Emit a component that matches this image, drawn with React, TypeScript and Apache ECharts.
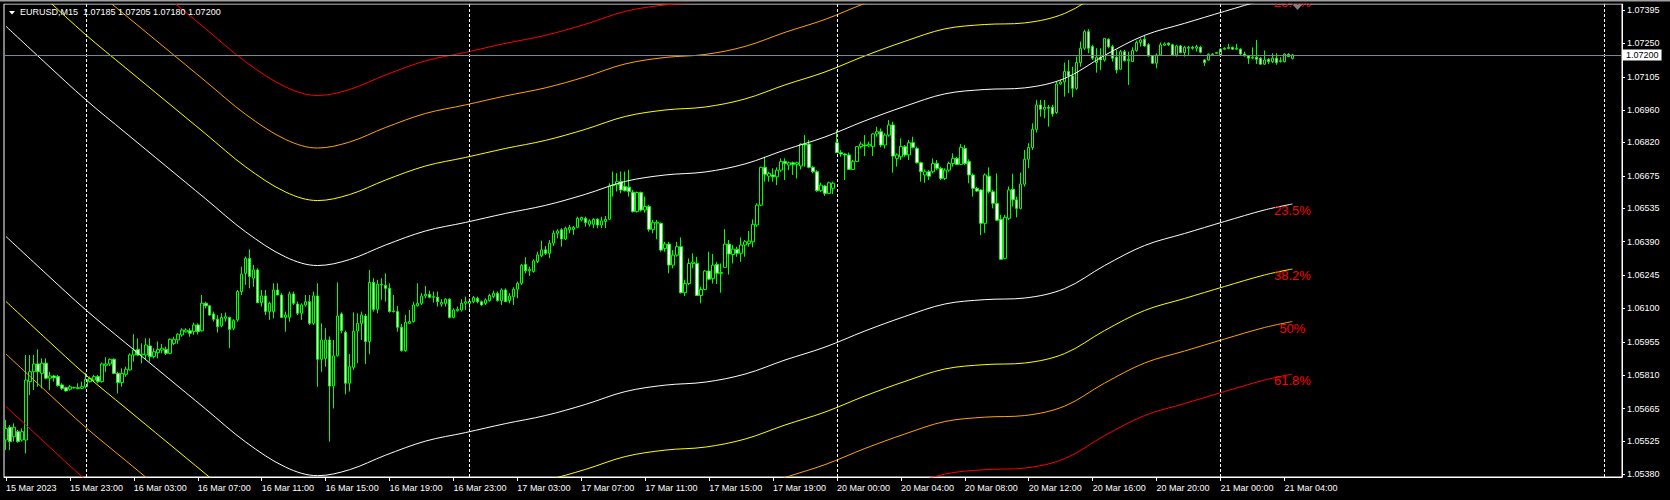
import React, { useEffect, useRef } from 'react';
import * as echarts from 'echarts';

const FONT = '"Liberation Sans", Arial, sans-serif';
const SYMBOL = 'EURUSD,M15';

// ---- price axis ----
const Y_MIN = 1.053683;
const Y_MAX = 1.07421;
const Y_TICKS = [1.0538, 1.05525, 1.05665, 1.0581, 1.05955, 1.061, 1.06245, 1.0639, 1.06535, 1.06675, 1.0682, 1.0696, 1.07105, 1.0725, 1.07395];
const BID = 1.072;

// ---- time axis ----
const AXIS_SLOTS = 405; // bars + empty shift area
const FIRST_BAR_MINUTE = 19 * 60; // 15 Mar 19:00
const MONDAY_BAR = 208; // first bar of 20 Mar 00:00
const DAY_BREAKS = [20, 116, 208, 304, 400];
const LABEL_STEP = 16;

// ---- candles [open, close, low, high] ----
const OHLC_15_MAR = [
  [1.05529, 1.05579, 1.05485, 1.05616], [1.05584, 1.05522, 1.05485, 1.05594], [1.05543, 1.05584, 1.05522, 1.05601], [1.05565, 1.05522, 1.05517, 1.05572],
  [1.05529, 1.05565, 1.05522, 1.05579], [1.05529, 1.05789, 1.05471, 1.05898], [1.05782, 1.05825, 1.05724, 1.05898], [1.05825, 1.05859, 1.05746, 1.05898],
  [1.05859, 1.05825, 1.0576, 1.05922], [1.05818, 1.05862, 1.05753, 1.05883], [1.05862, 1.05797, 1.05792, 1.05883], [1.05797, 1.05807, 1.05746, 1.05825],
  [1.05807, 1.05799, 1.05782, 1.05811], [1.05804, 1.05765, 1.0576, 1.05811], [1.05768, 1.05753, 1.05746, 1.05775], [1.05756, 1.05742, 1.05739, 1.0576],
  [1.05749, 1.0576, 1.05743, 1.05768], [1.05755, 1.05757, 1.05752, 1.0576], [1.05752, 1.05756, 1.05749, 1.05775], [1.05753, 1.0576, 1.05749, 1.05782],
];
const OHLC_16_MAR = [
  [1.0576, 1.05792, 1.05753, 1.05821], [1.05782, 1.05797, 1.05778, 1.05804], [1.05789, 1.05804, 1.05782, 1.05811], [1.05804, 1.05782, 1.05775, 1.05811],
  [1.05782, 1.05859, 1.05778, 1.05865], [1.05853, 1.05859, 1.05825, 1.05888], [1.05859, 1.05879, 1.0585, 1.05883], [1.05879, 1.05818, 1.05815, 1.05883],
  [1.05818, 1.05778, 1.05731, 1.05825], [1.05778, 1.05818, 1.0576, 1.0584], [1.05814, 1.05836, 1.05804, 1.05847], [1.05833, 1.05898, 1.0583, 1.05905],
  [1.05898, 1.05919, 1.05869, 1.05988], [1.05922, 1.05898, 1.05893, 1.0597], [1.05898, 1.05902, 1.05862, 1.05948], [1.05898, 1.05941, 1.05876, 1.0597],
  [1.05937, 1.05891, 1.05869, 1.0597], [1.05891, 1.05912, 1.05883, 1.05927], [1.05908, 1.05922, 1.05883, 1.05956], [1.05919, 1.05927, 1.05905, 1.05946],
  [1.05922, 1.05905, 1.05898, 1.05934], [1.05905, 1.05966, 1.05901, 1.0597], [1.05948, 1.05966, 1.05941, 1.05977], [1.05963, 1.05988, 1.05946, 1.05992],
  [1.05985, 1.06006, 1.05977, 1.06014], [1.05998, 1.06006, 1.05995, 1.06014], [1.06003, 1.05992, 1.05977, 1.06014], [1.05999, 1.06028, 1.05985, 1.06038],
  [1.06028, 1.05999, 1.05987, 1.06035], [1.06003, 1.06122, 1.05999, 1.06158], [1.06122, 1.06111, 1.061, 1.06129], [1.06111, 1.06071, 1.06067, 1.06115],
  [1.06076, 1.06053, 1.06043, 1.06086], [1.06053, 1.06021, 1.05995, 1.06071], [1.06024, 1.06061, 1.06018, 1.06079], [1.06057, 1.06064, 1.06043, 1.06082],
  [1.06061, 1.06009, 1.05927, 1.06064], [1.06014, 1.06047, 1.06006, 1.06053], [1.0605, 1.06173, 1.06042, 1.0618], [1.06173, 1.06249, 1.06158, 1.06281],
  [1.06252, 1.06317, 1.06202, 1.06325], [1.06317, 1.06238, 1.06187, 1.06356], [1.06231, 1.06267, 1.06194, 1.06289], [1.06267, 1.06125, 1.06122, 1.06274],
  [1.06125, 1.06154, 1.06108, 1.0618], [1.06154, 1.06086, 1.06071, 1.0618], [1.06086, 1.06122, 1.0605, 1.06129], [1.06086, 1.0618, 1.06057, 1.06209],
  [1.0618, 1.06158, 1.06158, 1.06209], [1.06158, 1.06061, 1.06061, 1.06166], [1.06061, 1.06071, 1.05999, 1.06086], [1.06061, 1.06163, 1.06042, 1.06173],
  [1.06163, 1.06122, 1.06115, 1.06173], [1.06119, 1.06079, 1.06071, 1.06129], [1.06079, 1.06115, 1.0605, 1.06122], [1.06115, 1.06129, 1.06108, 1.06158],
  [1.06129, 1.06035, 1.06028, 1.06158], [1.06035, 1.06154, 1.06028, 1.06173], [1.06154, 1.05879, 1.0576, 1.06209], [1.05879, 1.05963, 1.05825, 1.06035],
  [1.05883, 1.05963, 1.05847, 1.06014], [1.05963, 1.05763, 1.05522, 1.05978], [1.05763, 1.05894, 1.05666, 1.05963], [1.05894, 1.06067, 1.05891, 1.06213],
  [1.06076, 1.06004, 1.05992, 1.06083], [1.05996, 1.05775, 1.05727, 1.06004], [1.05775, 1.05847, 1.05739, 1.05902], [1.05844, 1.06001, 1.05833, 1.06083],
  [1.06002, 1.06035, 1.05862, 1.06079], [1.06035, 1.06072, 1.05963, 1.06086], [1.06067, 1.05956, 1.05859, 1.06076], [1.05956, 1.06213, 1.05901, 1.06267],
  [1.06213, 1.06096, 1.06086, 1.06231], [1.06096, 1.06205, 1.06079, 1.06224], [1.06202, 1.06205, 1.06137, 1.06231], [1.062, 1.06187, 1.06129, 1.06252],
  [1.06187, 1.06086, 1.06082, 1.06209], [1.06086, 1.06089, 1.06082, 1.06158], [1.06086, 1.06018, 1.05999, 1.06111], [1.06018, 1.05917, 1.05912, 1.06033],
  [1.05917, 1.0604, 1.05912, 1.06072], [1.06035, 1.06043, 1.06033, 1.06093], [1.06043, 1.06115, 1.06038, 1.06129], [1.06111, 1.06122, 1.06108, 1.06209],
  [1.06122, 1.06154, 1.06115, 1.06166], [1.06154, 1.06161, 1.06144, 1.06197], [1.06161, 1.06148, 1.06144, 1.06177], [1.06148, 1.06151, 1.06125, 1.06173],
  [1.06148, 1.06129, 1.06108, 1.06173], [1.06118, 1.06126, 1.06108, 1.0614], [1.06122, 1.0614, 1.06108, 1.06144], [1.0614, 1.06061, 1.06057, 1.06144],
  [1.06061, 1.06093, 1.06057, 1.06101], [1.0609, 1.06096, 1.06086, 1.06108], [1.06093, 1.06122, 1.06086, 1.0614], [1.06122, 1.06129, 1.06093, 1.06151],
];
const OHLC_17_MAR = [
  [1.06122, 1.06131, 1.06086, 1.06144], [1.06129, 1.06147, 1.06122, 1.06154], [1.06144, 1.06129, 1.06122, 1.06151], [1.06129, 1.06115, 1.06111, 1.06134],
  [1.06122, 1.06137, 1.06115, 1.06144], [1.06134, 1.06156, 1.06129, 1.06163], [1.06151, 1.06166, 1.06144, 1.06177], [1.06166, 1.06134, 1.06129, 1.06173],
  [1.06134, 1.0618, 1.06115, 1.06187], [1.0618, 1.06129, 1.06129, 1.06187], [1.06134, 1.06154, 1.06122, 1.06166], [1.06151, 1.06183, 1.06115, 1.06192],
  [1.06183, 1.06209, 1.06144, 1.06216], [1.06209, 1.06287, 1.06202, 1.06293], [1.06291, 1.06263, 1.06252, 1.06322], [1.06263, 1.0627, 1.06241, 1.06281],
  [1.0626, 1.06306, 1.06255, 1.06313], [1.06303, 1.06332, 1.06296, 1.06346], [1.06328, 1.06354, 1.06322, 1.06394], [1.06354, 1.06339, 1.06332, 1.06371],
  [1.06339, 1.06383, 1.06318, 1.06397], [1.06383, 1.06426, 1.06371, 1.06438], [1.06426, 1.06436, 1.06404, 1.06443], [1.06441, 1.06401, 1.06368, 1.06448],
  [1.06401, 1.06448, 1.06397, 1.06455], [1.06441, 1.06451, 1.06426, 1.06462], [1.06443, 1.06452, 1.06419, 1.06458], [1.06452, 1.06491, 1.06448, 1.06498],
  [1.06484, 1.06494, 1.06477, 1.06498], [1.06491, 1.06472, 1.06455, 1.06498], [1.06465, 1.0648, 1.06455, 1.06487], [1.06465, 1.06487, 1.06448, 1.06491],
  [1.06487, 1.06462, 1.06448, 1.06491], [1.06462, 1.0648, 1.06448, 1.06498], [1.06477, 1.06487, 1.06448, 1.06501], [1.06487, 1.06632, 1.06484, 1.06643],
  [1.06632, 1.06636, 1.06585, 1.06694], [1.06636, 1.0665, 1.06607, 1.06687], [1.0665, 1.06614, 1.066, 1.06694], [1.06629, 1.06611, 1.06607, 1.06694],
  [1.06626, 1.06607, 1.06585, 1.06701], [1.06604, 1.0652, 1.06516, 1.06614], [1.0652, 1.06603, 1.06516, 1.06607], [1.06603, 1.06527, 1.0652, 1.06607],
  [1.06527, 1.06542, 1.06516, 1.06585], [1.06542, 1.06443, 1.06433, 1.06549], [1.06443, 1.06472, 1.06426, 1.06484], [1.0647, 1.06474, 1.064, 1.06484],
  [1.06469, 1.06353, 1.06346, 1.06472], [1.0636, 1.06379, 1.06346, 1.06389], [1.06379, 1.06288, 1.06252, 1.06389], [1.06288, 1.06331, 1.06274, 1.06353],
  [1.06331, 1.06368, 1.06324, 1.06389], [1.06368, 1.06168, 1.06165, 1.06408], [1.06168, 1.06208, 1.06153, 1.06223], [1.06208, 1.06295, 1.06201, 1.06317],
  [1.06295, 1.06301, 1.06274, 1.06339], [1.06295, 1.06156, 1.06155, 1.06324], [1.06156, 1.06182, 1.06122, 1.06194], [1.06182, 1.06262, 1.06179, 1.06266],
  [1.06262, 1.06227, 1.06223, 1.06346], [1.0623, 1.06288, 1.06208, 1.06336], [1.06291, 1.06252, 1.06206, 1.06302], [1.06252, 1.06256, 1.06168, 1.06295],
  [1.06278, 1.06379, 1.06278, 1.06444], [1.06379, 1.06336, 1.06247, 1.06397], [1.06334, 1.06357, 1.06295, 1.06375], [1.06356, 1.06339, 1.06324, 1.06368],
  [1.06339, 1.06375, 1.06302, 1.06408], [1.06375, 1.06389, 1.06324, 1.06397], [1.06382, 1.06392, 1.06368, 1.06436], [1.06389, 1.06465, 1.06365, 1.06486],
  [1.06462, 1.06548, 1.06454, 1.06556], [1.06548, 1.06712, 1.06544, 1.06715], [1.06712, 1.06682, 1.0665, 1.06758], [1.06674, 1.06686, 1.0665, 1.06693],
  [1.06679, 1.06671, 1.0665, 1.06708], [1.06671, 1.067, 1.06635, 1.06712], [1.067, 1.06737, 1.06693, 1.06751], [1.06737, 1.06729, 1.06657, 1.06751],
  [1.06722, 1.06732, 1.067, 1.06737], [1.06732, 1.06725, 1.06679, 1.06737], [1.06725, 1.06732, 1.06664, 1.06737], [1.06718, 1.06813, 1.06703, 1.06816],
  [1.06813, 1.06809, 1.06715, 1.06852], [1.06813, 1.06712, 1.06708, 1.06831], [1.06712, 1.06693, 1.06686, 1.06718], [1.06693, 1.06611, 1.06606, 1.067],
  [1.06611, 1.06635, 1.06606, 1.06645], [1.06631, 1.06599, 1.06588, 1.06635], [1.06599, 1.06645, 1.06599, 1.0665], [1.06621, 1.06643, 1.06596, 1.0665],
];
const OHLC_20_MAR = [
  [1.06819, 1.06776, 1.06776, 1.06874], [1.06776, 1.0677, 1.06758, 1.06787], [1.0677, 1.06766, 1.06657, 1.06773], [1.06766, 1.06703, 1.06703, 1.06776],
  [1.06703, 1.06737, 1.067, 1.06744], [1.06737, 1.06802, 1.06737, 1.06805], [1.06802, 1.06813, 1.06794, 1.06823], [1.06809, 1.06806, 1.06761, 1.06852],
  [1.06805, 1.06812, 1.06799, 1.06823], [1.06802, 1.06857, 1.06761, 1.0686], [1.06857, 1.06867, 1.06845, 1.06888], [1.06867, 1.06809, 1.06799, 1.06881],
  [1.06809, 1.06852, 1.06794, 1.0686], [1.06852, 1.06896, 1.06845, 1.06917], [1.06896, 1.06761, 1.06689, 1.0691], [1.06751, 1.06766, 1.06715, 1.06773],
  [1.06758, 1.06802, 1.06744, 1.06838], [1.06802, 1.06766, 1.06758, 1.06809], [1.06766, 1.06819, 1.06744, 1.06831], [1.06819, 1.06799, 1.06794, 1.06845],
  [1.06794, 1.06732, 1.06729, 1.06802], [1.06732, 1.06693, 1.0665, 1.06737], [1.06679, 1.06693, 1.06645, 1.06703], [1.06693, 1.06674, 1.06657, 1.067],
  [1.06693, 1.06729, 1.06686, 1.06751], [1.06729, 1.06708, 1.067, 1.06744], [1.06708, 1.06664, 1.06657, 1.06715], [1.06664, 1.067, 1.06657, 1.06708],
  [1.067, 1.06729, 1.06693, 1.06737], [1.06729, 1.06751, 1.06715, 1.06773], [1.06751, 1.06725, 1.06722, 1.06758], [1.06725, 1.06799, 1.06722, 1.06813],
  [1.06794, 1.06729, 1.06722, 1.06809], [1.06737, 1.06679, 1.06643, 1.06747], [1.06679, 1.06621, 1.06585, 1.06686], [1.06621, 1.06609, 1.06606, 1.06628],
  [1.06614, 1.06469, 1.06418, 1.06616], [1.06469, 1.06679, 1.06428, 1.06686], [1.06674, 1.06606, 1.06599, 1.06712], [1.06606, 1.06556, 1.06534, 1.06614],
  [1.06556, 1.06483, 1.0648, 1.06686], [1.06487, 1.06313, 1.06313, 1.06506], [1.06317, 1.06495, 1.06313, 1.06506], [1.06491, 1.06614, 1.06484, 1.06629],
  [1.06617, 1.06571, 1.06542, 1.06684], [1.06571, 1.06534, 1.06495, 1.06585], [1.06534, 1.0664, 1.0653, 1.06689], [1.06639, 1.06747, 1.06629, 1.06788],
  [1.06747, 1.06798, 1.06708, 1.06817], [1.06798, 1.06877, 1.06788, 1.06903], [1.06877, 1.06983, 1.06863, 1.07005], [1.06983, 1.06964, 1.06932, 1.07005],
  [1.06964, 1.06973, 1.06925, 1.07005], [1.06973, 1.06969, 1.06889, 1.06983], [1.06973, 1.06944, 1.06932, 1.06983], [1.0695, 1.07074, 1.06944, 1.07084],
  [1.07074, 1.07083, 1.0707, 1.07092], [1.07083, 1.07128, 1.07019, 1.07167], [1.07128, 1.07109, 1.07034, 1.07178], [1.07109, 1.07055, 1.07016, 1.07149],
  [1.07055, 1.07167, 1.07048, 1.07193], [1.07167, 1.07229, 1.07149, 1.07258], [1.07229, 1.07301, 1.07222, 1.07309], [1.07301, 1.07229, 1.07207, 1.07312],
  [1.07236, 1.07186, 1.07178, 1.07244], [1.07167, 1.0719, 1.07123, 1.07229], [1.0719, 1.07178, 1.07135, 1.07229], [1.07178, 1.07272, 1.07171, 1.07272],
  [1.07268, 1.07236, 1.07229, 1.07272], [1.07236, 1.07186, 1.07171, 1.07244], [1.0719, 1.07135, 1.0712, 1.07222], [1.07138, 1.07214, 1.07135, 1.07222],
  [1.07214, 1.07175, 1.07171, 1.07222], [1.07175, 1.07181, 1.0707, 1.07214], [1.07171, 1.07219, 1.07171, 1.07233], [1.07219, 1.07254, 1.07214, 1.07262],
  [1.07254, 1.07265, 1.07236, 1.07272], [1.07268, 1.07239, 1.07236, 1.07287], [1.07244, 1.07196, 1.07193, 1.07251], [1.07196, 1.07164, 1.07161, 1.072],
  [1.07164, 1.072, 1.07142, 1.07207], [1.072, 1.07244, 1.07196, 1.07254], [1.07242, 1.07248, 1.07239, 1.07254], [1.07251, 1.07244, 1.07239, 1.07254],
  [1.07244, 1.072, 1.07196, 1.07248], [1.072, 1.07239, 1.07193, 1.07244], [1.07239, 1.0721, 1.07207, 1.07244], [1.0721, 1.07233, 1.07193, 1.07239],
  [1.07229, 1.07233, 1.072, 1.07239], [1.07233, 1.07229, 1.07222, 1.07239], [1.07229, 1.07236, 1.07215, 1.07244], [1.07233, 1.07212, 1.07207, 1.07239],
  [1.07178, 1.07167, 1.07152, 1.07181], [1.07178, 1.07203, 1.07175, 1.07207], [1.07201, 1.07204, 1.07196, 1.07207], [1.07207, 1.0721, 1.07206, 1.07212],
];
const OHLC_21_MAR = [
  [1.072, 1.07225, 1.07196, 1.07229], [1.07225, 1.07229, 1.07222, 1.07233], [1.07228, 1.07233, 1.07225, 1.07248], [1.07233, 1.07225, 1.07222, 1.07236],
  [1.07225, 1.07229, 1.07222, 1.07248], [1.07225, 1.07204, 1.072, 1.07229], [1.07204, 1.07196, 1.07193, 1.07214], [1.07196, 1.07186, 1.07161, 1.072],
  [1.07186, 1.0719, 1.07181, 1.07233], [1.0719, 1.07181, 1.07161, 1.07265], [1.07186, 1.0716, 1.07157, 1.0719], [1.0716, 1.07178, 1.07157, 1.07219],
  [1.07181, 1.07171, 1.07161, 1.07186], [1.07171, 1.07186, 1.07164, 1.07207], [1.07186, 1.07167, 1.07157, 1.07207], [1.07171, 1.07175, 1.07167, 1.0719],
  [1.07171, 1.07204, 1.07167, 1.07207], [1.07203, 1.07193, 1.0719, 1.07207], [1.07185, 1.072, 1.0718, 1.07205],
];

// ---- Fibonacci channel lines, sampled at these bars ----
const CURVE_BARS = [0, 10, 20, 30, 40, 50, 60, 70, 78, 86, 95, 105, 115, 125, 135, 145, 155, 165, 175, 185, 195, 205, 215, 225, 235, 245, 255, 265, 275, 285, 295, 305, 315, 322];
const UPPER_236 = [1.07324, 1.07163, 1.07005, 1.06861, 1.06718, 1.06575, 1.06432, 1.06323, 1.06286, 1.06312, 1.06375, 1.06436, 1.06473, 1.06512, 1.06547, 1.06595, 1.06651, 1.06679, 1.06692, 1.06727, 1.06788, 1.06844, 1.06914, 1.06977, 1.07031, 1.0705, 1.07057, 1.07098, 1.07198, 1.07285, 1.07337, 1.07389, 1.07439, 1.07465];
const UPPER_382 = [1.07606, 1.07445, 1.07287, 1.07143, 1.07, 1.06857, 1.06714, 1.06605, 1.06568, 1.06594, 1.06657, 1.06718, 1.06755, 1.06794, 1.06829, 1.06877, 1.06933, 1.06961, 1.06974, 1.07009, 1.0707, 1.07126, 1.07196, 1.07259, 1.07313, 1.07332, 1.07339, 1.0738, 1.0748, 1.07567, 1.07619, 1.07671, 1.07721, 1.07747];
const UPPER_500 = [1.07834, 1.07673, 1.07515, 1.07371, 1.07228, 1.07085, 1.06942, 1.06833, 1.06796, 1.06822, 1.06885, 1.06946, 1.06983, 1.07022, 1.07057, 1.07105, 1.07161, 1.07189, 1.07202, 1.07237, 1.07298, 1.07354, 1.07424, 1.07487, 1.07541, 1.0756, 1.07567, 1.07608, 1.07708, 1.07795, 1.07847, 1.07899, 1.07949, 1.07975];
const UPPER_618 = [1.08062, 1.07901, 1.07743, 1.07599, 1.07456, 1.07313, 1.0717, 1.07061, 1.07024, 1.0705, 1.07113, 1.07174, 1.07211, 1.0725, 1.07285, 1.07333, 1.07389, 1.07417, 1.0743, 1.07465, 1.07526, 1.07582, 1.07652, 1.07715, 1.07769, 1.07788, 1.07795, 1.07836, 1.07936, 1.08023, 1.08075, 1.08127, 1.08177, 1.08203];
const LOWER_236 = [1.06412, 1.06251, 1.06093, 1.05949, 1.05806, 1.05663, 1.0552, 1.05411, 1.05374, 1.054, 1.05463, 1.05524, 1.05561, 1.056, 1.05635, 1.05683, 1.05739, 1.05767, 1.0578, 1.05815, 1.05876, 1.05932, 1.06002, 1.06065, 1.06119, 1.06138, 1.06145, 1.06186, 1.06286, 1.06373, 1.06425, 1.06477, 1.06527, 1.06553];
const LOWER_382 = [1.0613, 1.05969, 1.05811, 1.05667, 1.05524, 1.05381, 1.05238, 1.05129, 1.05092, 1.05118, 1.05181, 1.05242, 1.05279, 1.05318, 1.05353, 1.05401, 1.05457, 1.05485, 1.05498, 1.05533, 1.05594, 1.0565, 1.0572, 1.05783, 1.05837, 1.05856, 1.05863, 1.05904, 1.06004, 1.06091, 1.06143, 1.06195, 1.06245, 1.06271];
const LOWER_500 = [1.05902, 1.05741, 1.05583, 1.05439, 1.05296, 1.05153, 1.0501, 1.04901, 1.04864, 1.0489, 1.04953, 1.05014, 1.05051, 1.0509, 1.05125, 1.05173, 1.05229, 1.05257, 1.0527, 1.05305, 1.05366, 1.05422, 1.05492, 1.05555, 1.05609, 1.05628, 1.05635, 1.05676, 1.05776, 1.05863, 1.05915, 1.05967, 1.06017, 1.06043];
const LOWER_618 = [1.05674, 1.05513, 1.05355, 1.05211, 1.05068, 1.04925, 1.04782, 1.04673, 1.04636, 1.04662, 1.04725, 1.04786, 1.04823, 1.04862, 1.04897, 1.04945, 1.05001, 1.05029, 1.05042, 1.05077, 1.05138, 1.05194, 1.05264, 1.05327, 1.05381, 1.054, 1.05407, 1.05448, 1.05548, 1.05635, 1.05687, 1.05739, 1.05789, 1.05815];
const FIB_LABELS = ['23.5%', '38.2%', '50%', '61.8%'];
const UPPER_LABEL = '23.6%';
const FIB_COLORS = ['#ffffff', '#ffff00', '#ffa500', '#ff0000'];

const pad = (n: number) => (n < 10 ? '0' + n : '' + n);
function buildCategories(): string[] {
  const cats: string[] = [];
  for (let i = 0; i < AXIS_SLOTS; i++) {
    let day: number;
    let m: number;
    if (i < MONDAY_BAR) {
      const t = FIRST_BAR_MINUTE + 15 * i;
      day = 15 + Math.floor(t / 1440);
      m = t % 1440;
    } else {
      const t = 15 * (i - MONDAY_BAR);
      day = 20 + Math.floor(t / 1440);
      m = t % 1440;
    }
    cats.push(i === 0 ? '15 Mar 2023' : `${day} Mar ${pad(Math.floor(m / 60))}:${pad(m % 60)}`);
  }
  return cats;
}

export default function App() {
  const ref = useRef<HTMLDivElement>(null);
  useEffect(() => {
    if (!ref.current) return;
    const chart = echarts.init(ref.current, undefined, { renderer: 'svg' });
    const candles = [...OHLC_15_MAR, ...OHLC_16_MAR, ...OHLC_17_MAR, ...OHLC_20_MAR, ...OHLC_21_MAR];
    const lastIdx = candles.length - 1;
    const last = candles[lastIdx];
    const cats = buildCategories();
    const showAt = (idx: number) => idx % LABEL_STEP === 0 && idx <= lastIdx;
    const endCat = cats[CURVE_BARS[CURVE_BARS.length - 1]];
    const fibLabel = (text: string, value: number, offsetY: number) => ({
      symbol: 'circle',
      symbolSize: 0,
      silent: true,
      precision: 5,
      label: { show: true, position: 'bottom', distance: 0, offset: [0, offsetY], formatter: text, color: '#ff0000', fontSize: 13, fontFamily: FONT },
      data: [{ coord: [endCat, value] }],
    });

    const curve = (values: number[], color: string, extra: any = {}) => ({
      type: 'line',
      data: CURVE_BARS.map((b, k) => [b, values[k]]),
      showSymbol: false,
      symbol: 'none',
      smooth: 0.35,
      clip: true,
      silent: true,
      z: 3,
      lineStyle: { color, width: 1 },
      ...extra,
    });

    const upper = [UPPER_236, UPPER_382, UPPER_500, UPPER_618];
    const lower = [LOWER_236, LOWER_382, LOWER_500, LOWER_618];
    const lineSeries: any[] = [];
    upper.forEach((v, k) => {
      const extra: any = {};
      if (k === 0) {
        // label of the upper 23.6% line sits above the plot top; anchor it on the top edge
        extra.markPoint = fibLabel(UPPER_LABEL, Y_MAX - 0.00001, -8);
        extra.markLine = {
          symbol: ['none', 'none'],
          silent: true,
          precision: 5,
          data: [
            {
              yAxis: BID,
              lineStyle: { color: '#778899', width: 1, type: 'solid' },
              label: {
                show: true,
                position: 'end',
                distance: 1,
                formatter: BID.toFixed(5),
                color: '#000000',
                backgroundColor: '#ffffff',
                padding: [1, 3, 1, 3],
                fontSize: 9,
                fontFamily: FONT,
              },
            },
          ],
        };
      }
      lineSeries.push(curve(v, FIB_COLORS[k], extra));
    });
    lower.forEach((v, k) => lineSeries.push(curve(v, FIB_COLORS[k], { markPoint: fibLabel(FIB_LABELS[k], v[v.length - 1], 0) })));

    const option: any = {
      animation: false,
      backgroundColor: '#000',
      title: {
        text: `${SYMBOL}  ${last[0].toFixed(5)} ${last[3].toFixed(5)} ${last[2].toFixed(5)} ${last[1].toFixed(5)}`,
        left: 20,
        top: 7,
        padding: 0,
        textStyle: { color: '#ffffff', fontSize: 9, fontWeight: 'normal', fontFamily: FONT },
      },
      grid: { left: 4, top: 4, width: 1618, height: 473, show: true, borderColor: '#ffffff', borderWidth: 1 },
      xAxis: {
        type: 'category',
        data: cats,
        boundaryGap: true,
        axisLine: { show: true, lineStyle: { color: '#ffffff' } },
        axisTick: { show: true, alignWithLabel: true, interval: (i: number) => showAt(i), length: 4, lineStyle: { color: '#ffffff' } },
        axisLabel: {
          show: true,
          interval: (i: number) => showAt(i),
          formatter: (v: string, i: number) => (i <= lastIdx ? v : ''),
          color: '#ffffff',
          fontSize: 9,
          fontFamily: FONT,
          align: 'left',
          margin: 6,
        },
        splitLine: { show: false },
      },
      yAxis: {
        type: 'value',
        position: 'right',
        min: Y_MIN,
        max: Y_MAX,
        axisLine: { show: true, lineStyle: { color: '#ffffff' } },
        axisTick: { show: true, length: 3, customValues: Y_TICKS, lineStyle: { color: '#ffffff' } },
        axisLabel: { show: true, customValues: Y_TICKS, formatter: (v: number) => v.toFixed(5), color: '#ffffff', fontSize: 9, fontFamily: FONT, margin: 5 },
        splitLine: { show: false },
      },
      series: [
        {
          type: 'candlestick',
          data: candles,
          barWidth: 3,
          z: 2,
          silent: true,
          itemStyle: { color: '#000000', color0: '#ffffff', borderColor: '#00ff00', borderColor0: '#00ff00', borderWidth: 1 },
          markLine: {
            symbol: ['none', 'none'],
            silent: true,
            label: { show: false },
            data: DAY_BREAKS.map((i) => ({ xAxis: cats[i], lineStyle: { color: '#ffffff', width: 1, type: [3, 2] } })),
          },
        },
        ...lineSeries,
      ],
      graphic: [
        { type: 'rect', shape: { x: 0, y: 0, width: 1670, height: 3.5 }, style: { fill: '#000000' }, z: 100, silent: true },
        { type: 'rect', shape: { x: 0, y: 0, width: 1670, height: 1.5 }, style: { fill: '#a0a0a0' }, z: 101, silent: true },
        { type: 'polygon', shape: { points: [[9, 11], [15, 11], [12, 14.5]] }, style: { fill: '#ffffff' }, z: 101, silent: true },
        { type: 'polygon', shape: { points: [[1293, 5], [1302, 5], [1297.5, 10]] }, style: { fill: '#808080' }, z: 101, silent: true },
      ],
    };
    chart.setOption(option);
    return () => chart.dispose();
  }, []);
  return <div ref={ref} style={{ position: 'fixed', left: 0, top: 0, width: 1670, height: 500, background: '#000' }} />;
}
